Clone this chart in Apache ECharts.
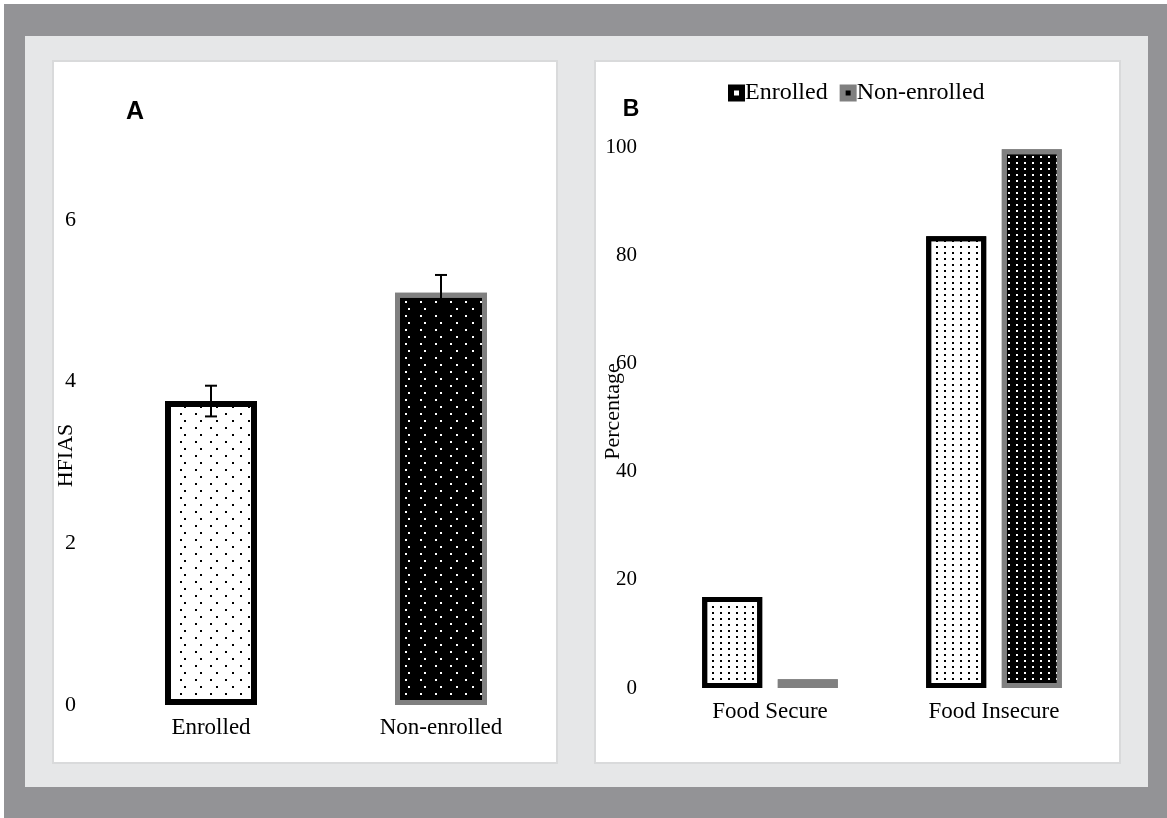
<!DOCTYPE html>
<html>
<head>
<meta charset="utf-8">
<script src="https://cdn.jsdelivr.net/npm/echarts@6/dist/echarts.min.js"></script>
<style>
  html, body { margin: 0; padding: 0; background: #fff; }
  #main { width: 1167px; height: 818px; }
</style>
</head>
<body>
<div id="main"></div>
<script>
// panel A: HFIAS score by group
const groupsA = ['Enrolled', 'Non-enrolled']
const hfiasMean = [3.76, 5.1]
const hfiasErr = [0.19, 0.22]
const ticksA = [0, 2, 4, 6]

// panel B: food security status (%)
const statusB = ['Food Secure', 'Food Insecure']
const enrolledPct = [16.8, 83.5]
const nonEnrolledPct = [1.6, 99.6]
const ticksB = [0, 20, 40, 60, 80, 100]

const serif = 'Liberation Serif'

// dotted fills
const dotsWhite = {
  symbol: 'rect', symbolSize: 1, color: '#000',
  dashArrayX: [[2, 13], [0, 7.5, 2, 5.5]],
  dashArrayY: [2, 5]
}
const dotsBlack = {
  symbol: 'rect', symbolSize: 1, color: '#fff',
  dashArrayX: [[2, 13], [0, 7.5, 2, 5.5]],
  dashArrayY: [2, 5]
}
const dotsWhiteB = {
  symbol: 'rect', symbolSize: 1, color: '#000',
  dashArrayX: [2, 5.5],
  dashArrayY: [2, 3.5]
}
const dotsBlackB = {
  symbol: 'rect', symbolSize: 1, color: '#fff',
  dashArrayX: [2, 5.5],
  dashArrayY: [2, 3.5]
}

const styleA = [
  { color: '#fff', borderColor: '#000', borderWidth: 6, decal: dotsWhite },
  { color: '#000', borderColor: '#808080', borderWidth: 5, decal: dotsBlack }
]

const myChart = echarts.init(document.getElementById('main'))

const option = {
  animation: false,
  graphic: [
    { type: 'rect', z: -10, shape: { x: 4, y: 4, width: 1163, height: 814 }, style: { fill: '#939396' } },
    { type: 'rect', z: -9, shape: { x: 25, y: 36, width: 1123, height: 751 }, style: { fill: '#e6e7e8' } },
    { type: 'rect', z: -8, shape: { x: 53, y: 61, width: 504, height: 702 }, style: { fill: '#fff', stroke: '#d9dadb', lineWidth: 2 } },
    { type: 'rect', z: -8, shape: { x: 595, y: 61, width: 525, height: 702 }, style: { fill: '#fff', stroke: '#d9dadb', lineWidth: 2 } },
    { type: 'text', z: 5, style: { x: 135, y: 112, text: 'A', align: 'center', verticalAlign: 'middle', font: 'bold 25px "Liberation Sans"', fill: '#000' } },
    { type: 'text', z: 5, style: { x: 631, y: 110, text: 'B', align: 'center', verticalAlign: 'middle', font: 'bold 23px "Liberation Sans"', fill: '#000' } }
  ],
  legend: {
    data: [
      { name: 'Enrolled', itemStyle: { color: '#fff', borderColor: '#000', borderWidth: 6, decal: 'none' } },
      { name: 'Non-enrolled', itemStyle: { color: '#000', borderColor: '#808080', borderWidth: 6, decal: 'none' } }
    ],
    left: 728,
    top: 81,
    padding: 0,
    icon: 'rect',
    itemWidth: 11,
    itemHeight: 11,
    itemGap: 12,
    textStyle: { fontFamily: serif, fontSize: 24, color: '#000', padding: [0, 0, 0, -2] }
  },
  grid: [
    { left: 96, right: 611, top: 220, bottom: 113 },
    { left: 658, right: 61, top: 147, bottom: 130 }
  ],
  xAxis: [
    {
      type: 'category', gridIndex: 0, data: groupsA,
      axisLine: { show: false }, axisTick: { show: false },
      axisLabel: { fontFamily: serif, fontSize: 23, color: '#000', margin: 11 }
    },
    {
      type: 'category', gridIndex: 1, data: statusB,
      axisLine: { show: false }, axisTick: { show: false },
      axisLabel: { fontFamily: serif, fontSize: 23, color: '#000', margin: 12 }
    }
  ],
  yAxis: [
    {
      type: 'value', gridIndex: 0, min: ticksA[0], max: ticksA[ticksA.length - 1], interval: 2,
      name: 'HFIAS', nameLocation: 'middle', nameGap: 19, nameRotate: 90, nameMoveOverlap: false,
      nameTextStyle: { fontFamily: serif, fontSize: 22, color: '#000', padding: [0, 0, 0, 14] },
      axisLine: { show: false }, axisTick: { show: false }, splitLine: { show: false },
      axisLabel: { fontFamily: serif, fontSize: 22, color: '#000', margin: 20 }
    },
    {
      type: 'value', gridIndex: 1, min: ticksB[0], max: ticksB[ticksB.length - 1], interval: 20,
      name: 'Percentage', nameLocation: 'middle', nameGap: 34, nameRotate: 90, nameMoveOverlap: false,
      nameTextStyle: { fontFamily: serif, fontSize: 22, color: '#000', padding: [0, 0, 0, 12] },
      axisLine: { show: false }, axisTick: { show: false }, splitLine: { show: false },
      axisLabel: { fontFamily: serif, fontSize: 21, color: '#000', margin: 21 }
    }
  ],
  series: [
    {
      type: 'bar', xAxisIndex: 0, yAxisIndex: 0, barWidth: 92,
      data: hfiasMean.map((v, i) => ({ value: v, itemStyle: styleA[i] }))
    },
    {
      type: 'custom', xAxisIndex: 0, yAxisIndex: 0, z: 10,
      data: hfiasMean.map((v, i) => [i, v, hfiasErr[i]]),
      renderItem: function (params, api) {
        const top = api.coord([api.value(0), api.value(1) + api.value(2)])
        const bot = api.coord([api.value(0), api.value(1) - api.value(2)])
        const x = top[0]
        const hw = 6
        const st = { stroke: '#000', lineWidth: 2 }
        return {
          type: 'group',
          children: [
            { type: 'line', shape: { x1: x, y1: top[1], x2: x, y2: bot[1] }, style: st },
            { type: 'line', shape: { x1: x - hw, y1: top[1], x2: x + hw, y2: top[1] }, style: st },
            { type: 'line', shape: { x1: x - hw, y1: bot[1], x2: x + hw, y2: bot[1] }, style: st }
          ]
        }
      }
    },
    {
      name: 'Enrolled', type: 'bar', xAxisIndex: 1, yAxisIndex: 1,
      barWidth: 60, barGap: '26%',
      itemStyle: { color: '#fff', borderColor: '#000', borderWidth: 5, decal: dotsWhiteB },
      data: enrolledPct
    },
    {
      name: 'Non-enrolled', type: 'bar', xAxisIndex: 1, yAxisIndex: 1,
      barWidth: 60, barGap: '26%',
      itemStyle: { color: '#000', borderColor: '#808080', borderWidth: 5, decal: dotsBlackB },
      data: nonEnrolledPct
    }
  ]
}

myChart.setOption(option)
</script>
</body>
</html>
